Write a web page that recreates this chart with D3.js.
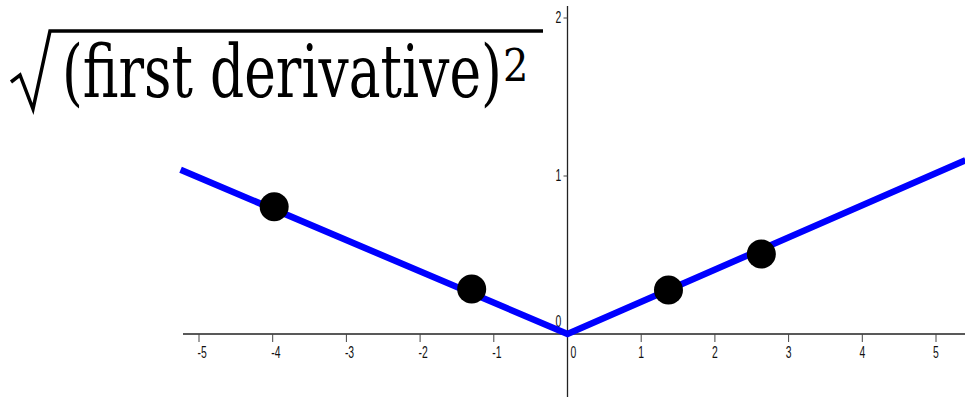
<!DOCTYPE html>
<html>
<head>
<meta charset="utf-8">
<script src="https://cdn.jsdelivr.net/npm/d3@7"></script>
<style>
    html, body { margin: 0; padding: 0; background: #fff; }
    svg { display: block; }
</style>
</head>
<body>
<svg id="chart" width="965" height="397"></svg>
<script>
// chart data
const xTicks = [-5, -4, -3, -2, -1, 0, 1, 2, 3, 4, 5];
const yTicks = [0, 1, 2];
const curveX = [-5.25, 0, 5.4];
const curveY = [1.04, 0, 1.1];
const pointX = [-3.98, -1.3, 1.37, 2.63];
const pointY = [0.806, 0.285, 0.278, 0.506];
const titleText = '(first derivative)';

const WIDTH = 965;
const HEIGHT = 397;
const TICK_FONT = 'Liberation Sans Narrow, Liberation Sans, sans-serif';

const svg = d3.select('#chart');

// scales: x from -5..5, y from 0..2
const xScale = d3.scaleLinear()
    .domain([-5, 5])
    .range([199, 936]);
const yScale = d3.scaleLinear()
    .domain([0, 2])
    .range([334, 18]);

const x0 = xScale(0);
const y0 = yScale(0);

// axis lines
svg.append('line')
    .attr('x1', 183).attr('x2', WIDTH)
    .attr('y1', y0).attr('y2', y0)
    .attr('stroke', '#222').attr('stroke-width', 1.6);
svg.append('line')
    .attr('x1', x0).attr('x2', x0)
    .attr('y1', 6).attr('y2', HEIGHT)
    .attr('stroke', '#222').attr('stroke-width', 1.3);

// x ticks
const xTickG = svg.append('g').selectAll('g')
    .data(xTicks)
    .join('g')
    .attr('transform', d => `translate(${xScale(d)}, ${y0})`);
xTickG.filter(d => d !== 0).append('line')
    .attr('y1', 0).attr('y2', 8)
    .attr('stroke', '#444').attr('stroke-width', 1);
xTickG.append('text')
    .attr('text-anchor', d => d < 0 ? 'start' : 'middle')
    .attr('transform', d => {
        let dx = d < 0 ? -1.5 : (d === 0 ? 6 : 0);
        return `translate(${dx}, 24) scale(0.8, 1.2)`;
    })
    .attr('font-family', TICK_FONT)
    .attr('font-size', 13)
    .attr('fill', '#111')
    .text(d => d < 0 ? '-' + Math.abs(d) : d);

// y ticks
const yTickG = svg.append('g').selectAll('g')
    .data(yTicks)
    .join('g')
    .attr('transform', d => `translate(${x0}, ${yScale(d)})`);
yTickG.filter(d => d !== 0).append('line')
    .attr('x1', -4).attr('x2', 0)
    .attr('stroke', '#444').attr('stroke-width', 1);
yTickG.append('text')
    .attr('text-anchor', 'middle')
    .attr('transform', d => `translate(-9, ${d === 0 ? -7 : 5}) scale(0.8, 1.2)`)
    .attr('font-family', TICK_FONT)
    .attr('font-size', 13)
    .attr('fill', '#111')
    .text(d => d);

// the blue curve
const line = d3.line()
    .x(d => xScale(d[0]))
    .y(d => yScale(d[1]));
svg.append('path')
    .datum(d3.zip(curveX, curveY))
    .attr('d', line)
    .attr('fill', 'none')
    .attr('stroke', '#0000ff')
    .attr('stroke-width', 6.5)
    .attr('stroke-linejoin', 'miter');

// black points
svg.append('g').selectAll('circle')
    .data(d3.zip(pointX, pointY))
    .join('circle')
    .attr('cx', d => xScale(d[0]))
    .attr('cy', d => yScale(d[1]))
    .attr('r', 14.5)
    .attr('fill', '#000');

// title: sqrt((first derivative)^2)
const title = svg.append('g');
const titleMain = title.append('text')
    .attr('font-family', 'DejaVu Serif, serif')
    .attr('font-size', 56)
    .attr('fill', '#000')
    .text(titleText);
const mainW = titleMain.node().getComputedTextLength();
// stretch to fit the reference width
const sx = 440 / mainW;
titleMain.attr('transform', `translate(62, 97) scale(${sx}, 1.3)`);

title.append('text')
    .attr('font-family', 'DejaVu Serif, serif')
    .attr('font-size', 40)
    .attr('fill', '#000')
    .attr('transform', 'translate(503, 81) scale(1, 1.1)')
    .text('2');

// radical sign
title.append('path')
    .attr('d', 'M 11 82 L 20 75 L 33 109 L 50 31 L 543 31')
    .attr('fill', 'none')
    .attr('stroke', '#000')
    .attr('stroke-width', 3.5)
    .attr('stroke-linejoin', 'miter');
</script>
</body>
</html>
